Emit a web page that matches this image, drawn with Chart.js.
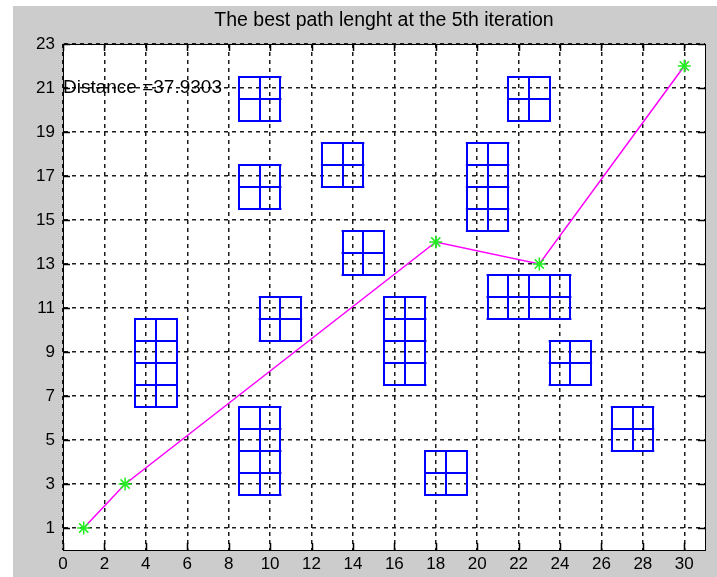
<!DOCTYPE html>
<html>
<head>
<meta charset="utf-8">
<script src="https://cdn.jsdelivr.net/npm/chart.js@4/dist/chart.umd.min.js"></script>
<style>
  html, body { margin: 0; padding: 0; background: #ffffff; }
  #wrap { width: 717px; height: 577px; }
</style>
</head>
<body>
<div id="wrap"><canvas id="c" width="717" height="577"></canvas></div>
<script>
// ---- data ----
const titleText = 'The best path lenght at the 5th iteration';
const distanceLabel = 'Distance =37.9303';
const distanceAnchor = [0, 21];
const xTicks = [0, 2, 4, 6, 8, 10, 12, 14, 16, 18, 20, 22, 24, 26, 28, 30];
const yTicks = [1, 3, 5, 7, 9, 11, 13, 15, 17, 19, 21, 23];
const pathX = [1, 3, 18, 23, 30];
const pathY = [1, 3, 14, 13, 22];
// obstacles: bounds in data units, made of 1x1 cells
const obsLeft   = [8.5, 8.5, 12.5, 13.5, 9.5, 3.5, 8.5, 15.5, 17.5, 19.5, 21.5, 20.5, 23.5, 26.5];
const obsRight  = [10.5, 10.5, 14.5, 15.5, 11.5, 5.5, 10.5, 17.5, 19.5, 21.5, 23.5, 24.5, 25.5, 28.5];
const obsBottom = [19.5, 15.5, 16.5, 12.5, 9.5, 6.5, 2.5, 7.5, 2.5, 14.5, 19.5, 10.5, 7.5, 4.5];
const obsTop    = [21.5, 17.5, 18.5, 14.5, 11.5, 10.5, 6.5, 11.5, 4.5, 18.5, 21.5, 12.5, 9.5, 6.5];

const pathData = pathX.map((x, i) => ({ x: x, y: pathY[i] }));

const FONT = 'Arial, "Liberation Sans", Helvetica, sans-serif';

const decor = {
  id: 'decor',
  beforeDraw(chart) {
    const ctx = chart.ctx;
    const a = chart.chartArea;
    ctx.save();
    ctx.fillStyle = '#ffffff';
    ctx.fillRect(0, 0, chart.width, chart.height);
    ctx.fillStyle = '#cccccc';
    ctx.fillRect(13, 6, chart.width - 13, chart.height - 6);
    ctx.fillStyle = '#ffffff';
    ctx.fillRect(a.left, a.top, a.right - a.left, a.bottom - a.top);
    // title centred over the axes
    ctx.fillStyle = '#000000';
    ctx.font = '19.5px ' + FONT;
    ctx.textAlign = 'center';
    ctx.textBaseline = 'middle';
    ctx.fillText(titleText, (a.left + a.right) / 2, 21);
    ctx.restore();
  },
  beforeDatasetsDraw(chart) {
    const ctx = chart.ctx;
    const xs = chart.scales.x, ys = chart.scales.y;
    ctx.save();
    ctx.strokeStyle = '#0000ff';
    ctx.lineWidth = 2;
    ctx.lineCap = 'square';
    for (let i = 0; i < obsLeft.length; i++) {
      const l = obsLeft[i], r = obsRight[i], b = obsBottom[i], t = obsTop[i];
      ctx.beginPath();
      for (let x = l; x <= r + 1e-9; x += 1) {
        const px = Math.round(xs.getPixelForValue(x));
        ctx.moveTo(px, ys.getPixelForValue(b));
        ctx.lineTo(px, ys.getPixelForValue(t));
      }
      for (let y = b; y <= t + 1e-9; y += 1) {
        const py = Math.round(ys.getPixelForValue(y));
        ctx.moveTo(xs.getPixelForValue(l), py);
        ctx.lineTo(xs.getPixelForValue(r), py);
      }
      ctx.stroke();
    }
    // text
    ctx.fillStyle = '#000000';
    ctx.font = '19px ' + FONT;
    ctx.textAlign = 'left';
    ctx.textBaseline = 'middle';
    ctx.fillText(distanceLabel, xs.getPixelForValue(distanceAnchor[0]), ys.getPixelForValue(distanceAnchor[1]));
    ctx.restore();
  },
  afterDraw(chart) {
    const ctx = chart.ctx;
    const a = chart.chartArea;
    const xs = chart.scales.x, ys = chart.scales.y;
    ctx.save();
    ctx.strokeStyle = '#000000';
    ctx.lineWidth = 1.5;
    ctx.beginPath();
    const tl = 7;
    xTicks.forEach(v => {
      const px = Math.round(xs.getPixelForValue(v)) + 0.5;
      ctx.moveTo(px, a.bottom); ctx.lineTo(px, a.bottom - tl);
      ctx.moveTo(px, a.top); ctx.lineTo(px, a.top + tl);
    });
    yTicks.forEach(v => {
      const py = Math.round(ys.getPixelForValue(v)) + 0.5;
      ctx.moveTo(a.left, py); ctx.lineTo(a.left + tl, py);
      ctx.moveTo(a.right, py); ctx.lineTo(a.right - tl, py);
    });
    ctx.stroke();
    ctx.lineWidth = 1;
    ctx.strokeRect(Math.round(a.left) + 0.5, Math.round(a.top) + 0.5,
                   Math.round(a.right - a.left), Math.round(a.bottom - a.top));
    ctx.restore();
  }
};

new Chart(document.getElementById('c'), {
  type: 'scatter',
  data: {
    datasets: [{
      data: pathData,
      showLine: true,
      borderColor: '#ff00ff',
      borderWidth: 1.5,
      pointStyle: 'star',
      pointRadius: 6.5,
      pointBorderColor: '#22ee22',
      pointBackgroundColor: '#22ee22',
      pointBorderWidth: 1.5,
      tension: 0
    }]
  },
  options: {
    responsive: false,
    animation: false,
    events: [],
    layout: { padding: { left: 0, right: 12, top: 44, bottom: 0 } },
    plugins: {
      legend: { display: false },
      tooltip: { enabled: false },
      title: { display: false }
    },
    scales: {
      x: {
        type: 'linear',
        min: 0, max: 31,
        afterBuildTicks: s => { s.ticks = xTicks.map(v => ({ value: v })); },
        afterFit: s => { s.height = 27; },
        ticks: { color: '#000000', font: { family: FONT, size: 17 }, padding: 4, maxRotation: 0, autoSkip: false },
        grid: { color: '#1a1a1a', lineWidth: 1.5, drawTicks: false },
        border: { display: true, color: '#000000', dash: [4, 4] }
      },
      y: {
        type: 'linear',
        min: 0, max: 23,
        afterBuildTicks: s => { s.ticks = yTicks.map(v => ({ value: v })); },
        afterFit: s => { s.width = 63; },
        ticks: { color: '#000000', font: { family: FONT, size: 17 }, padding: 8, autoSkip: false },
        grid: { color: '#1a1a1a', lineWidth: 1.5, drawTicks: false },
        border: { display: true, color: '#000000', dash: [4, 4] }
      }
    }
  },
  plugins: [decor]
});
</script>
</body>
</html>
